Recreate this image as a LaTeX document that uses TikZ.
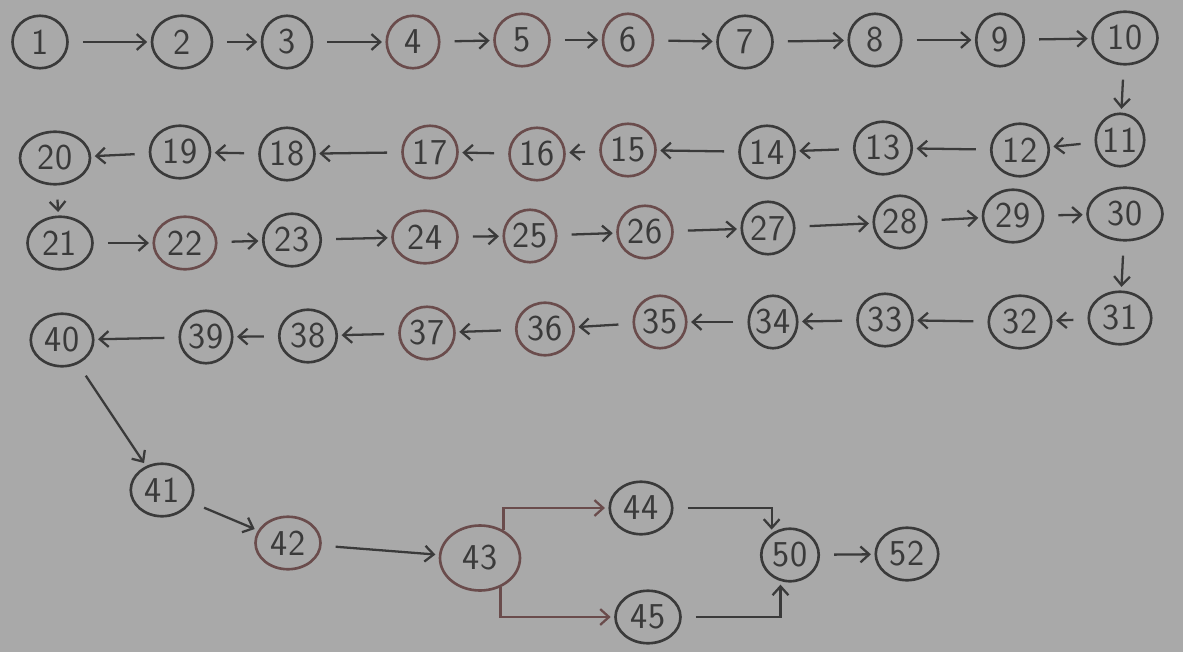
\documentclass[tikz,border=0pt]{standalone}
\usepackage{tikz}
\usetikzlibrary{backgrounds,arrows.meta,shapes.geometric}

\definecolor{paper}{HTML}{A9A9A9}
\definecolor{pencil}{HTML}{3A3A3A}
\definecolor{redpencil}{HTML}{6A4C4C}

\begin{document}
\begin{tikzpicture}[x=0.02cm,y=-0.02cm,
	background rectangle/.style={fill=paper}, show background rectangle, inner frame sep=0pt,
	num/.style={ellipse, draw=pencil, line width=1.5pt, inner sep=0pt, minimum width=1.2cm, minimum height=1.05cm, font=\sffamily\huge, text=pencil},
	link/.style={line width=1.3pt, pencil, -{Straight Barb[length=5pt,width=9pt]}, shorten <=8pt, shorten >=2pt}]

	\useasboundingbox (0,0) rectangle (1183,652);

	% first row, left to right
	\foreach \n/\x/\y/\c/\w in {1/40/42/pencil/1.1, 2/182/42/pencil/1.2, 3/287/42/pencil/1.0, 4/413/42/redpencil/1.05, 5/522/40/redpencil/1.1,
		6/628/40/redpencil/1.0, 7/745/42/pencil/1.1, 8/875/40/pencil/1.05, 9/1000/40/pencil/0.95, 10/1125/38/pencil/1.3}
		\node[num, draw=\c, minimum width=\w cm] (n\n) at (\x,\y) {\n};

	% second row, right to left
	\foreach \n/\x/\y/\c/\w in {11/1120/140/pencil/0.95, 12/1020/150/pencil/1.15, 13/883/148/pencil/1.15, 14/767/152/pencil/1.1, 15/628/150/redpencil/1.1,
		16/537/154/redpencil/1.1, 17/430/152/redpencil/1.1, 18/287/154/pencil/1.1, 19/180/152/pencil/1.2, 20/55/158/pencil/1.4}
		\node[num, draw=\c, minimum width=\w cm] (n\n) at (\x,\y) {\n};

	% third row, left to right
	\foreach \n/\x/\y/\c/\w in {21/60/243/pencil/1.3, 22/185/243/redpencil/1.25, 23/292/240/pencil/1.15, 24/425/237/redpencil/1.3, 25/530/236/redpencil/1.05,
		26/645/232/redpencil/1.1, 27/768/228/pencil/1.05, 28/900/222/pencil/1.05, 29/1013/216/pencil/1.2, 30/1125/214/pencil/1.5}
		\node[num, draw=\c, minimum width=\w cm] (n\n) at (\x,\y) {\n};

	% fourth row, right to left
	\foreach \n/\x/\y/\c/\w in {31/1120/318/pencil/1.25, 32/1020/322/pencil/1.25, 33/885/320/pencil/1.1, 34/773/322/pencil/0.95, 35/660/322/redpencil/1.05,
		36/545/329/redpencil/1.15, 37/427/333/redpencil/1.1, 38/308/336/pencil/1.15, 39/206/337/pencil/1.05, 40/62/340/pencil/1.25}
		\node[num, draw=\c, minimum width=\w cm] (n\n) at (\x,\y) {\n};

	% tail
	\foreach \n/\x/\y/\c/\w in {41/162/490/pencil/1.25, 42/288/543/redpencil/1.3, 44/641/508/pencil/1.25, 45/648/617/pencil/1.3,
		50/790/555/pencil/1.15, 52/907/554/pencil/1.25}
		\node[num, draw=\c, minimum width=\w cm] (n\n) at (\x,\y) {\n};
	\node[num, draw=redpencil, minimum width=1.6cm, minimum height=1.3cm] (n43) at (480,558) {43};

	\foreach \a/\b in {1/2,2/3,3/4,4/5,5/6,6/7,7/8,8/9,9/10,10/11,
		11/12,12/13,13/14,14/15,15/16,16/17,17/18,18/19,19/20,20/21,
		21/22,22/23,23/24,24/25,25/26,26/27,27/28,28/29,29/30,30/31,
		31/32,32/33,33/34,34/35,35/36,36/37,37/38,38/39,39/40,40/41,
		41/42,42/43,50/52}
		\draw[link] (n\a) -- (n\b);

	% branch and join
	\draw[link, redpencil, shorten <=0pt] (n43.50) |- (n44.west);
	\draw[link, redpencil, shorten <=0pt] (n43.-55) |- (n45.west);
	\draw[link] (n44.east) -| (n50.130);
	\draw[link] (n45.east) -| (n50.-110);

\end{tikzpicture}
\end{document}
